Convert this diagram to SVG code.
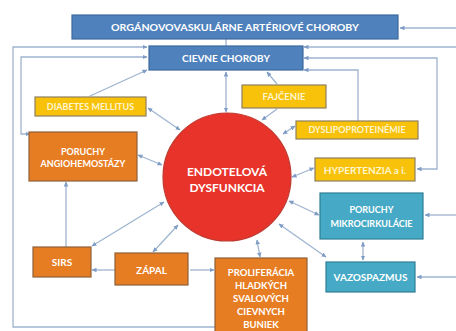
<svg xmlns="http://www.w3.org/2000/svg" width="456" height="331" viewBox="0 0 456 331">
<style>
.t{font-family:Lato,"Liberation Sans",sans-serif;font-weight:bold;fill:#ffffff;text-anchor:middle}
.ty{font-family:Lato,"Liberation Sans",sans-serif;font-weight:bold;fill:#fff6d0;text-anchor:middle}
.blue{fill:#4f81bd;stroke:#3d6a9e;stroke-width:1.2}
.yel{fill:#f8c10a;stroke:#8e8060;stroke-width:1.2}
.ora{fill:#e77d22;stroke:#8f5f3a;stroke-width:1.2}
.cya{fill:#46aac6;stroke:#2f7f95;stroke-width:1.2}
.c{fill:none;stroke:#9fb4d0;stroke-width:1.3}
</style>
<defs>
<marker id="a" viewBox="0 0 10 10" refX="9" refY="5" markerWidth="5" markerHeight="5" markerUnits="userSpaceOnUse" orient="auto-start-reverse">
<path d="M0,0.5 L10,5 L0,9.5 z" fill="#7f9cc4"/>
</marker>
</defs>
<rect width="456" height="331" fill="#ffffff"/>
<g id="connectors">
<path class="c" d="M456,28 L400,28" marker-end="url(#a)"/>
<path class="c" d="M226,39 L226,46"/>
<path class="c" d="M215,327 L13,327 L13,47 L147,47" marker-end="url(#a)"/>
<path class="c" d="M30,134 L21,134 L21,57 L147,57" marker-start="url(#a)" marker-end="url(#a)"/>
<path class="c" d="M90,96 L147,70" marker-end="url(#a)"/>
<path class="c" d="M148,108 L180,130" marker-start="url(#a)" marker-end="url(#a)"/>
<path class="c" d="M277,84 L267,72" marker-end="url(#a)"/>
<path class="c" d="M226,72 L226,112" marker-start="url(#a)" marker-end="url(#a)"/>
<path class="c" d="M277,109 L262,120" marker-end="url(#a)"/>
<path class="c" d="M295,126 L283,134" marker-start="url(#a)" marker-end="url(#a)"/>
<path class="c" d="M358,121 L358,70 L304,70" marker-end="url(#a)"/>
<path class="c" d="M456,47 L304,47" marker-end="url(#a)"/>
<path class="c" d="M417,169 L437,169 L437,58 L304,58" marker-start="url(#a)" marker-end="url(#a)"/>
<path class="c" d="M314,168 L292,177" marker-start="url(#a)" marker-end="url(#a)"/>
<path class="c" d="M456,215 L425,215" marker-end="url(#a)"/>
<path class="c" d="M319,215 L289,201" marker-start="url(#a)" marker-end="url(#a)"/>
<path class="c" d="M456,277 L417,277" marker-end="url(#a)"/>
<path class="c" d="M363,242 L363,260" marker-start="url(#a)" marker-end="url(#a)"/>
<path class="c" d="M279,224 L326,257" marker-start="url(#a)" marker-end="url(#a)"/>
<path class="c" d="M257,240 L260,257" marker-start="url(#a)" marker-end="url(#a)"/>
<path class="c" d="M190,270 L214,270" marker-end="url(#a)"/>
<path class="c" d="M115,270 L92,270" marker-end="url(#a)"/>
<path class="c" d="M178,225 L153,252" marker-start="url(#a)" marker-end="url(#a)"/>
<path class="c" d="M164,202 L92,246" marker-start="url(#a)" marker-end="url(#a)"/>
<path class="c" d="M66,247 L66,182" marker-end="url(#a)"/>
<path class="c" d="M138,155 L162,165" marker-start="url(#a)" marker-end="url(#a)"/>
</g>
<g id="organovovaskularne">
<rect class="blue" x="72" y="15" width="326" height="24"/>
<text class="t" x="235" y="31" font-size="9.5" textLength="248" lengthAdjust="spacingAndGlyphs">ORGÁNOVOVASKULÁRNE  ARTÉRIOVÉ  CHOROBY</text>
</g>
<g id="cievne">
<rect class="blue" x="149" y="46" width="154" height="24"/>
<text class="t" x="226" y="62" font-size="10">CIEVNE CHOROBY</text>
</g>
<g id="diabetes">
<rect class="yel" x="35" y="97" width="111" height="19"/>
<text class="ty" x="90.5" y="110" font-size="9">DIABETES MELLITUS</text>
</g>
<g id="fajcenie">
<rect class="yel" x="242" y="85" width="84" height="23"/>
<text class="ty" x="284" y="100" font-size="9.5">FAJČENIE</text>
</g>
<g id="dyslipo">
<rect class="yel" x="296" y="121" width="122" height="18"/>
<text class="ty" x="357" y="133" font-size="9">DYSLIPOPROTEINÉMIE</text>
</g>
<g id="hypertenzia">
<rect class="yel" x="315" y="158" width="100" height="23"/>
<text class="ty" x="365" y="174" font-size="10">HYPERTENZIA a i.</text>
</g>
<g id="angiohemostazy">
<rect class="ora" x="29" y="132" width="108" height="49"/>
<text class="t" x="83" y="155" font-size="9">PORUCHY</text>
<text class="t" x="83" y="167" font-size="9">ANGIOHEMOSTÁZY</text>
</g>
<g id="endotelova">
<circle cx="227" cy="177" r="64" fill="#e8332b" stroke="#c0392f" stroke-width="1.2"/>
<text class="t" x="227" y="176" font-size="12">ENDOTELOVÁ</text>
<text class="t" x="227" y="192" font-size="12">DYSFUNKCIA</text>
</g>
<g id="mikrocirkulacie">
<rect class="cya" x="320" y="193" width="103" height="46"/>
<text class="t" x="371.5" y="213" font-size="9">PORUCHY</text>
<text class="t" x="371.5" y="227" font-size="9">MIKROCIRKULÁCIE</text>
</g>
<g id="vazospazmus">
<rect class="cya" x="326" y="262" width="89" height="30"/>
<text class="t" x="370.5" y="281" font-size="10">VAZOSPAZMUS</text>
</g>
<g id="sirs">
<rect class="ora" x="33" y="247" width="58" height="30"/>
<text class="t" x="62" y="266" font-size="10">SIRS</text>
</g>
<g id="zapal">
<rect class="ora" x="115" y="253" width="73" height="32"/>
<text class="t" x="151.5" y="274" font-size="10">ZÁPAL</text>
</g>
<g id="proliferacia">
<rect class="ora" x="215" y="258" width="92" height="76"/>
<text class="t" x="261" y="276" font-size="9.5">PROLIFERÁCIA</text>
<text class="t" x="261" y="289" font-size="9.5">HLADKÝCH</text>
<text class="t" x="261" y="302" font-size="9.5">SVALOVÝCH</text>
<text class="t" x="261" y="315" font-size="9.5">CIEVNYCH</text>
<text class="t" x="261" y="328" font-size="9.5">BUNIEK</text>
</g>
</svg>
